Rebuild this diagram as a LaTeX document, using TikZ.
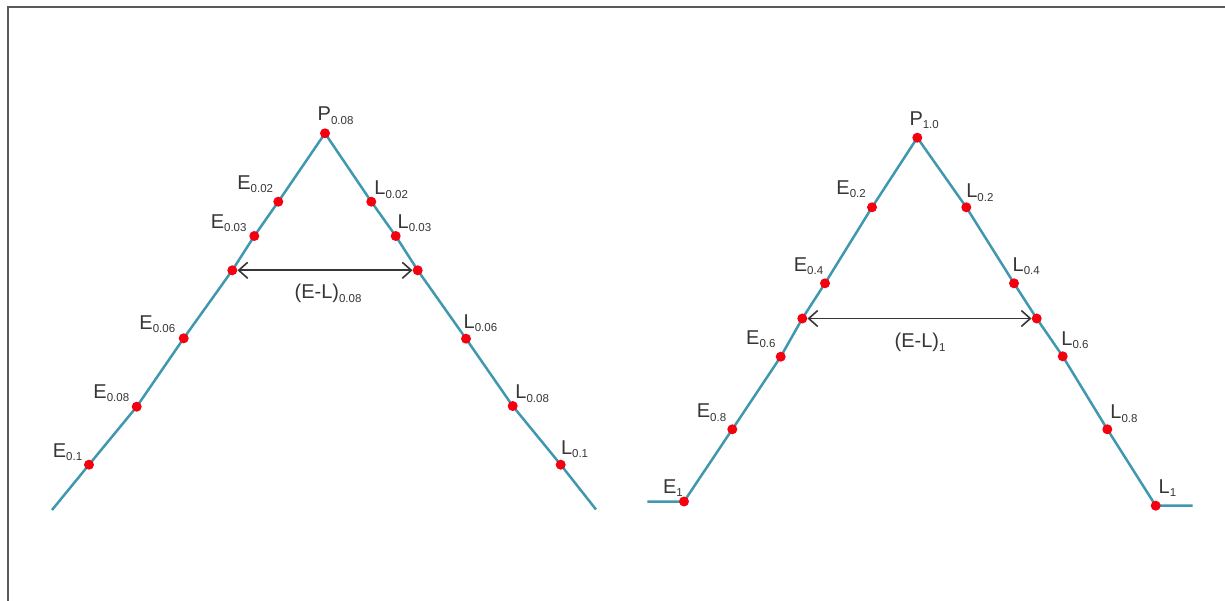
\documentclass[tikz,border=0pt]{standalone}
\usepackage{fontspec}
\setmainfont{Liberation Sans}
\usetikzlibrary{arrows.meta,calc,backgrounds}
\definecolor{lineblue}{HTML}{3F98AF}
\definecolor{dotred}{HTML}{F5000F}
\definecolor{txtgray}{HTML}{363636}
\definecolor{framegray}{HTML}{5A5A5A}
\newcommand{\lbl}[2]{#1\raisebox{-3.5pt}{\fontsize{11.5pt}{11.5pt}\selectfont#2}}
\begin{document}
\begin{tikzpicture}[x=1pt,y=-1pt,every node/.style={font=\fontsize{20pt}{20pt}\selectfont,text=txtgray},reddot/.style={circle,fill=dotred,inner sep=0pt,minimum size=10pt},vline/.style={draw=lineblue,line width=2.5pt,line join=round},elab/.style={anchor=south east,inner sep=0pt},llab/.style={anchor=south west,inner sep=0pt},gap/.style={draw=txtgray,line width=1.6pt,{Straight Barb[length=9pt,width=16pt]}-{Straight Barb[length=9pt,width=16pt]}}]
\useasboundingbox (0,0) rectangle (1225,601);
\draw[framegray,line width=2pt] (7.5,601)--(7.5,7.5)--(1225,7.5);
% first triangle
\coordinate (S1) at (52,510);
\coordinate (T1) at (596,509.5);
\node[reddot] (E01) at (89,464.7) {};
\node[reddot] (E008) at (136.7,406.7) {};
\node[reddot] (E006) at (183.7,338.3) {};
\node[reddot] (A1) at (232.3,270.3) {};
\node[reddot] (E003) at (254.3,236) {};
\node[reddot] (E002) at (278.3,201.7) {};
\node[reddot] (P008) at (325,133.3) {};
\node[reddot] (L002) at (371.3,201.7) {};
\node[reddot] (L003) at (395.7,236) {};
\node[reddot] (A2) at (417.7,270.3) {};
\node[reddot] (L006) at (466,338.7) {};
\node[reddot] (L008) at (512.7,406) {};
\node[reddot] (L01) at (560.7,464.7) {};
\begin{scope}[on background layer]
\draw[vline] (S1)--(E01.center)--(E008.center)--(E006.center)--(A1.center)--(E003.center)--(E002.center)--(P008.center)--(L002.center)--(L003.center)--(A2.center)--(L006.center)--(L008.center)--(L01.center)--(T1);
\end{scope}
\draw[gap] (A1)--(A2);
\node at ($(A1)!0.5!(A2)+(3,23.5)$) (D1) {\lbl{(E-L)}{0.08}};
\node[llab,xshift=-7.5pt,yshift=8.5pt] at (P008) {\lbl{P}{0.08}};
\node[elab,xshift=-5pt,yshift=8.7pt] at (E002) {\lbl{E}{0.02}};
\node[elab,xshift=-7.6pt,yshift=4pt] at (E003) {\lbl{E}{0.03}};
\node[elab,xshift=-8.3pt,yshift=5pt] at (E006) {\lbl{E}{0.06}};
\node[elab,xshift=-7.3pt,yshift=4.7pt] at (E008) {\lbl{E}{0.08}};
\node[elab,xshift=-6.6pt,yshift=3.7pt] at (E01) {\lbl{E}{0.1}};
\node[llab,xshift=2.9pt,yshift=3pt] at (L002) {\lbl{L}{0.02}};
\node[llab,xshift=1.8pt,yshift=3.7pt] at (L003) {\lbl{L}{0.03}};
\node[llab,xshift=-2.5pt,yshift=6.7pt] at (L006) {\lbl{L}{0.06}};
\node[llab,xshift=2.5pt,yshift=3.3pt] at (L008) {\lbl{L}{0.08}};
\node[llab,xshift=0.1pt,yshift=6.4pt] at (L01) {\lbl{L}{0.1}};
% second triangle
\coordinate (S2) at (647.3,501.5);
\coordinate (T2) at (1192.7,505.7);
\node[reddot] (E1) at (684,501.5) {};
\node[reddot] (E08) at (732.3,429.3) {};
\node[reddot] (E06) at (780.7,356.7) {};
\node[reddot] (B1) at (802.3,318.5) {};
\node[reddot] (E04) at (825,283.3) {};
\node[reddot] (E02) at (872,207.3) {};
\node[reddot] (P10) at (917.3,137.7) {};
\node[reddot] (L02) at (966.3,207.3) {};
\node[reddot] (L04) at (1014,283.3) {};
\node[reddot] (B2) at (1036.7,318.5) {};
\node[reddot] (L06) at (1062.7,356.3) {};
\node[reddot] (L08) at (1107.3,429.3) {};
\node[reddot] (L1) at (1155.7,505.7) {};
\begin{scope}[on background layer]
\draw[vline] (S2)--(E1.center)--(E08.center)--(E06.center)--(B1.center)--(E04.center)--(E02.center)--(P10.center)--(L02.center)--(L04.center)--(B2.center)--(L06.center)--(L08.center)--(L1.center)--(T2);
\end{scope}
\draw[gap] (B1)--(B2);
\node at ($(B1)!0.5!(B2)+(0.5,24)$) (D2) {\lbl{(E-L)}{1}};
\node[llab,xshift=-8pt,yshift=8.4pt] at (P10) {\lbl{P}{1.0}};
\node[elab,xshift=-6pt,yshift=9pt] at (E02) {\lbl{E}{0.2}};
\node[elab,xshift=-1.6pt,yshift=8.3pt] at (E04) {\lbl{E}{0.4}};
\node[elab,xshift=-5pt,yshift=8.4pt] at (E06) {\lbl{E}{0.6}};
\node[elab,xshift=-5.9pt,yshift=7.6pt] at (E08) {\lbl{E}{0.8}};
\node[elab,xshift=-1pt,yshift=4.6pt] at (E1) {\lbl{E}{1}};
\node[llab,xshift=-0.2pt,yshift=5.6pt] at (L02) {\lbl{L}{0.2}};
\node[llab,xshift=-1.5pt,yshift=8.3pt] at (L04) {\lbl{L}{0.4}};
\node[llab,xshift=-1.5pt,yshift=7pt] at (L06) {\lbl{L}{0.6}};
\node[llab,xshift=2.9pt,yshift=6.6pt] at (L08) {\lbl{L}{0.8}};
\node[llab,xshift=2.8pt,yshift=9pt] at (L1) {\lbl{L}{1}};
\end{tikzpicture}
\end{document}
